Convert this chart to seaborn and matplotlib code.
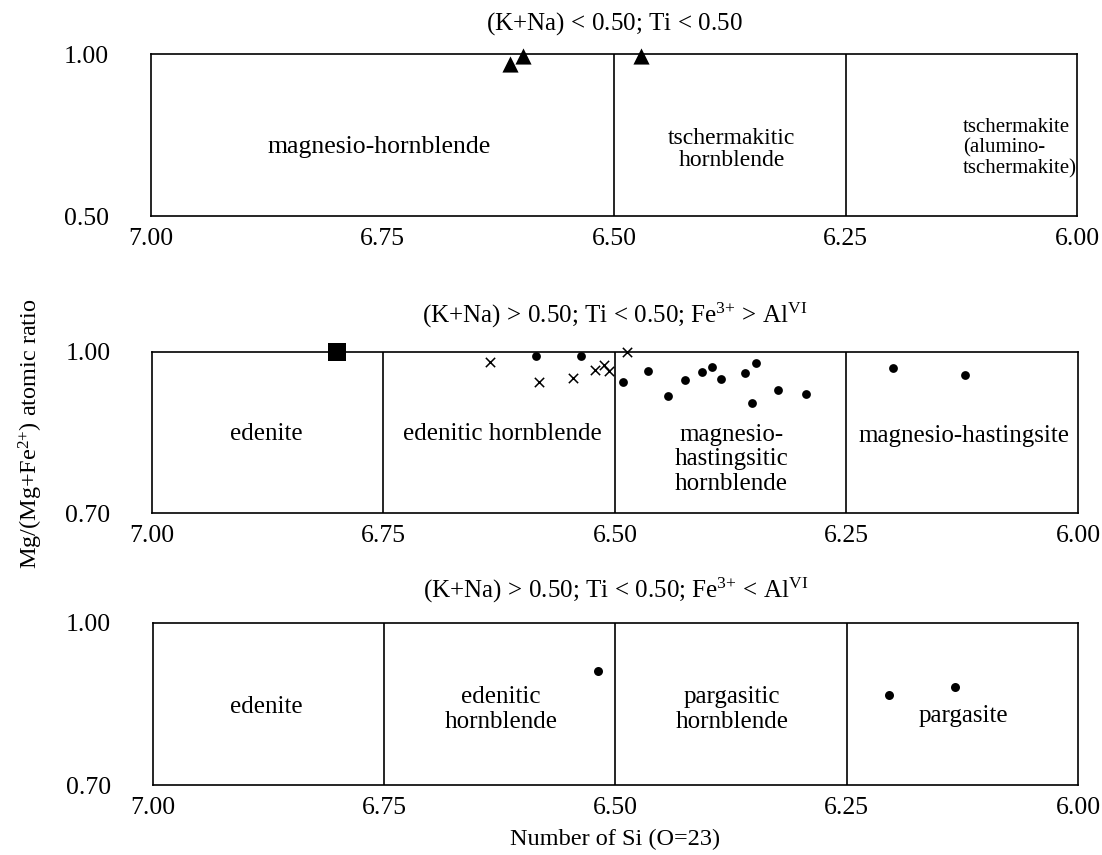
import numpy as np
import pandas as pd
import matplotlib
matplotlib.use("Agg")
import matplotlib.pyplot as plt
import seaborn as sns

# ---------------- data ----------------
# Panel 1: (K+Na)<0.50; Ti<0.50  (triangles)
p1_tri_si = [6.612, 6.598, 6.471]
p1_tri_mg = [0.972, 0.995, 0.994]

# Panel 2: (K+Na)>0.50; Ti<0.50; Fe3+>AlVI
p2_sq_si = [6.800]
p2_sq_mg = [1.000]
p2_x_si = [6.635, 6.582, 6.545, 6.522, 6.512, 6.506, 6.487]
p2_x_mg = [0.981, 0.943, 0.952, 0.967, 0.976, 0.965, 0.999]
p2_dot_si = [6.585, 6.537, 6.491, 6.464, 6.443, 6.424, 6.406, 6.395,
             6.386, 6.360, 6.348, 6.352, 6.324, 6.294, 6.200, 6.122]
p2_dot_mg = [0.992, 0.993, 0.944, 0.964, 0.918, 0.947, 0.963, 0.971,
             0.949, 0.960, 0.980, 0.904, 0.929, 0.921, 0.969, 0.957]

# Panel 3: (K+Na)>0.50; Ti<0.50; Fe3+<AlVI
p3_dot_si = [6.519, 6.204, 6.133]
p3_dot_mg = [0.910, 0.867, 0.882]

# axes ranges / tick labels
si_ticks = [7.00, 6.75, 6.50, 6.25, 6.00]
si_ticklabels = ["7.00", "6.75", "6.50", "6.25", "6.00"]
p1_yticks = [0.50, 1.00]
p23_yticks = [0.70, 1.00]

# field boundaries
p1_bounds = [6.50, 6.25]
p23_bounds = [6.75, 6.50, 6.25]

titles = [r"(K+Na)$\,<\,$0.50; Ti$\,<\,$0.50",
          r"(K+Na)$\,>\,$0.50; Ti$\,<\,$0.50; Fe$^{3{+}}\,>\,$Al$^{\mathrm{VI}}$",
          r"(K+Na)$\,>\,$0.50; Ti$\,<\,$0.50; Fe$^{3{+}}\,<\,$Al$^{\mathrm{VI}}$"]

p1_names = ["magnesio-hornblende", "tschermakitic\nhornblende",
            "tschermakite\n(alumino-\ntschermakite)"]
p1_name_x = [6.754, 6.373, 6.123]
p1_name_y = [0.715, 0.707, 0.710]

p2_names = ["edenite", "edenitic hornblende",
            "magnesio-\nhastingsitic\nhornblende", "magnesio-hastingsite"]
p2_name_x = [6.876, 6.622, 6.374, 6.123]
p2_name_y = [0.847, 0.847, 0.800, 0.844]

p3_names = ["edenite", "edenitic\nhornblende", "pargasitic\nhornblende", "pargasite"]
p3_name_x = [6.877, 6.624, 6.374, 6.124]
p3_name_y = [0.844, 0.840, 0.840, 0.828]

# ---------------- style ----------------
sns.set_theme(style="white")
plt.rcParams["font.family"] = ["Liberation Serif", "DejaVu Serif"]
plt.rcParams["mathtext.fontset"] = "custom"
plt.rcParams["mathtext.rm"] = "Liberation Serif"
plt.rcParams["mathtext.it"] = "Liberation Serif:italic"
plt.rcParams["mathtext.bf"] = "Liberation Serif:bold"
plt.rcParams["mathtext.default"] = "regular"

fig = plt.figure(figsize=(11.02, 8.55), dpi=100)
fig.patch.set_facecolor("white")

ax1 = fig.add_axes([0.1368, 0.7468, 0.8406, 0.1895])
ax2 = fig.add_axes([0.1379, 0.3996, 0.8403, 0.1890])
ax3 = fig.add_axes([0.1388, 0.0813, 0.8394, 0.1906])

TICK_FS = 18.5
NAME_FS = 18
TITLE_FS = 18

def style_axis(ax, ylim, yticks, bounds, title, tpad):
    ax.set_xlim(7.0, 6.0)
    ax.set_ylim(*ylim)
    ax.set_xticks(si_ticks)
    ax.set_xticklabels(si_ticklabels)
    ax.set_yticks(yticks)
    ax.set_yticklabels([f"{v:.2f}" for v in yticks])
    ax.tick_params(axis="x", length=0, pad=8.5, labelsize=TICK_FS, colors="black")
    ax.tick_params(axis="y", length=0, pad=30, labelsize=TICK_FS, colors="black")
    for sp in ax.spines.values():
        sp.set_visible(True)
        sp.set_color("black")
        sp.set_linewidth(1.2)
    for b in bounds:
        ax.axvline(b, color="black", lw=1.2, zorder=1)
    ax.set_title(title, fontsize=TITLE_FS, pad=tpad, color="black")
    ax.set_xlabel("")
    ax.set_ylabel("")
    ax.grid(False)

# Panel 1
df1 = pd.DataFrame({"si": p1_tri_si, "mg": p1_tri_mg})
sns.scatterplot(data=df1, x="si", y="mg", marker="^", s=135, color="black",
                edgecolor="black", linewidth=0, ax=ax1, clip_on=False, zorder=3)
style_axis(ax1, (0.50, 1.00), p1_yticks, p1_bounds, titles[0], 18)
for i, (t, x, y) in enumerate(zip(p1_names, p1_name_x, p1_name_y)):
    fs = [18.5, 17, 15][i]
    ax1.text(x, y, t, ha="left" if i == 2 else "center", va="center", fontsize=fs,
             multialignment="left" if i == 2 else "center",
             linespacing=1.1, color="black")

# Panel 2
df2s = pd.DataFrame({"si": p2_sq_si, "mg": p2_sq_mg})
df2x = pd.DataFrame({"si": p2_x_si, "mg": p2_x_mg})
df2d = pd.DataFrame({"si": p2_dot_si, "mg": p2_dot_mg})
sns.scatterplot(data=df2s, x="si", y="mg", marker="s", s=165, color="black",
                edgecolor="black", linewidth=0, ax=ax2, clip_on=False, zorder=3)
sns.scatterplot(data=df2x, x="si", y="mg", marker="x", s=45, color="black",
                linewidth=1.1, ax=ax2, clip_on=False, zorder=3)
sns.scatterplot(data=df2d, x="si", y="mg", marker="o", s=40, color="black",
                edgecolor="black", linewidth=0, ax=ax2, clip_on=False, zorder=3)
style_axis(ax2, (0.70, 1.00), p23_yticks, p23_bounds, titles[1], 21)
for t, x, y in zip(p2_names, p2_name_x, p2_name_y):
    ax2.text(x, y, t, ha="center", va="center", fontsize=NAME_FS,
             linespacing=1.15, color="black")

# Panel 3
df3 = pd.DataFrame({"si": p3_dot_si, "mg": p3_dot_mg})
sns.scatterplot(data=df3, x="si", y="mg", marker="o", s=42, color="black",
                edgecolor="black", linewidth=0, ax=ax3, clip_on=False, zorder=3)
style_axis(ax3, (0.70, 1.00), p23_yticks, p23_bounds, titles[2], 18)
for t, x, y in zip(p3_names, p3_name_x, p3_name_y):
    ax3.text(x, y, t, ha="center", va="center", fontsize=NAME_FS,
             linespacing=1.15, color="black")

ax2.set_ylabel(r"Mg/(Mg+Fe$^{2{+}}$) atomic ratio", fontsize=17.5, color="black")
ax2.yaxis.set_label_coords(-0.115, 0.49)
ax3.set_xlabel("Number of Si (O=23)", fontsize=17.5, color="black")
ax3.xaxis.set_label_coords(0.5, -0.265)

fig.savefig("out.png", dpi=100, facecolor="white")
